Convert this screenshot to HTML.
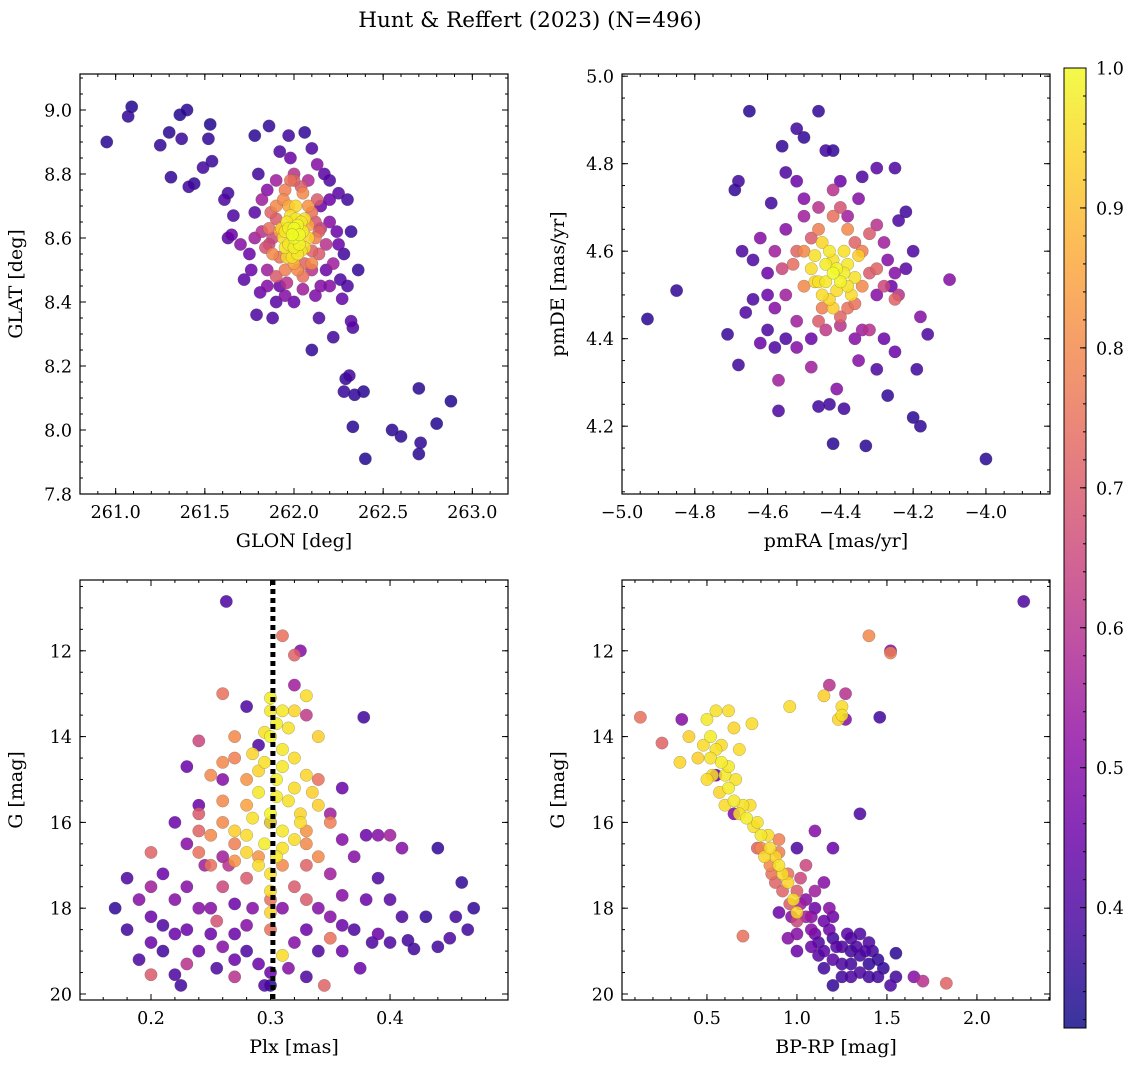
<!DOCTYPE html>
<html><head><meta charset="utf-8">
<style>
html,body{margin:0;padding:0;background:#fff;}
svg{display:block;font-family:"DejaVu Serif","Liberation Serif",serif;}
</style></head>
<body>
<svg id="chart" width="1136" height="1068" viewBox="0 0 1136 1068">
<text x="530" y="27" text-anchor="middle" font-size="21.5">Hunt &amp; Reffert (2023) (N=496)</text>
</svg>
<script>
// ---- data: [x, y, membership probability] ----
const glonGlat = [
[260.95,8.90,.35],[261.07,8.98,.36],[261.09,9.01,.34],[261.25,8.89,.36],[261.3,8.93,.35],[261.36,8.985,.34],[261.4,9.0,.35],[261.37,8.91,.37],[261.31,8.79,.36],[261.41,8.76,.38],[261.44,8.77,.36],[261.53,8.955,.34],[261.52,8.91,.36],[261.49,8.82,.38],[261.54,8.84,.37],[261.61,8.72,.4],[261.63,8.74,.38],[261.63,8.6,.42],[261.65,8.61,.45],[261.66,8.67,.4],[261.78,8.92,.35],[261.86,8.95,.36],[261.92,8.87,.4],[261.97,8.92,.38],[262.06,8.93,.36],[262.1,8.88,.4],[262.13,8.83,.5],[262.2,8.78,.4],[262.25,8.74,.42],[262.3,8.72,.38],[262.32,8.62,.37],[262.36,8.5,.36],[262.3,8.45,.4],[262.27,8.41,.44],[262.32,8.34,.42],[262.33,8.32,.4],[262.22,8.29,.38],[262.1,8.25,.36],[262.14,8.35,.4],[262.29,8.16,.36],[262.28,8.12,.37],[262.31,8.17,.38],[262.34,8.11,.36],[262.39,8.12,.35],[262.33,8.01,.35],[262.4,7.91,.34],[262.55,8.0,.35],[262.6,7.98,.35],[262.7,8.13,.35],[262.71,7.96,.36],[262.7,7.925,.35],[262.8,8.02,.34],[262.88,8.09,.34],[261.79,8.36,.4],[261.81,8.43,.45],[261.88,8.35,.4],[262.2,8.45,.5],[261.75,8.55,.45],[261.72,8.47,.42],[261.7,8.58,.5],[261.78,8.68,.42],[261.8,8.8,.38],[261.85,8.75,.5],[262.15,8.7,.45],[262.2,8.65,.5],[262.25,8.58,.45],[262.22,8.52,.55],[261.95,8.42,.5],[262.05,8.44,.55],[262.1,8.5,.6],[261.85,8.5,.55],[261.82,8.62,.6],[262.18,8.58,.6],[262.15,8.63,.62],[261.9,8.78,.55],[262.0,8.8,.6],[262.08,8.78,.58],[261.92,8.45,.45],[262.15,8.45,.5],
[261.9,8.7,.8],[261.95,8.75,.78],[262.05,8.74,.8],[262.1,8.68,.75],[262.12,8.6,.78],[262.1,8.52,.8],[262.05,8.48,.75],[261.95,8.5,.78],[261.88,8.55,.8],[261.86,8.63,.75],[261.92,8.62,.85],[262.08,8.64,.85],[262.0,8.52,.85],[261.97,8.7,.86],[261.87,8.68,.72],[262.14,8.55,.7],[261.9,8.48,.7],[262.0,8.78,.72],[262.13,8.72,.7],[261.84,8.57,.68],
[261.88,8.6,.65],[261.9,8.66,.7],[262.12,8.65,.68],[262.1,8.56,.72],[261.92,8.54,.75],[262.06,8.52,.72],[261.96,8.46,.6],[262.04,8.76,.7],[261.94,8.72,.8],[262.08,8.7,.82],[262.14,8.62,.72],[261.86,8.58,.65],[261.98,8.78,.75],[262.02,8.5,.8],[261.85,8.45,.5],[262.18,8.5,.45],[262.2,8.72,.45],[261.78,8.6,.55],[261.76,8.5,.45],[262.24,8.62,.45],[262.0,8.4,.45],[261.9,8.4,.42],[262.12,8.42,.48],[261.98,8.85,.45],[262.17,8.8,.42],[261.82,8.72,.55],[262.26,8.47,.4],[262.28,8.55,.38],
[262.0,8.6,1],[261.97,8.63,.98],[262.03,8.58,.99],[262.01,8.66,.97],[261.95,8.57,.96],[262.05,8.62,.98],[262.02,8.55,.97],[261.98,8.67,.95],[262.06,8.57,.96],[261.94,8.6,.95],[262.0,8.63,1],[262.04,8.65,.97],[261.99,8.54,.96],[262.08,8.6,.94],[261.96,8.65,.97],[262.01,8.7,.94],[261.93,8.63,.93],[262.03,8.61,1],
[261.97,8.58,.97],[262.04,8.56,.96],[261.99,8.61,1],[262.02,8.64,.99],[262.06,8.66,.95],[261.95,8.62,.97],[262.0,8.57,.98],[261.96,8.54,.94]];
const pmraPmde = [
[-4.93,4.445,.35],[-4.85,4.51,.36],[-4.71,4.41,.37],[-4.69,4.74,.36],[-4.68,4.76,.38],[-4.67,4.6,.4],[-4.68,4.34,.38],[-4.65,4.92,.35],[-4.64,4.49,.4],[-4.62,4.39,.45],[-4.6,4.42,.4],[-4.59,4.71,.38],[-4.55,4.78,.4],[-4.56,4.84,.36],[-4.52,4.88,.38],[-4.5,4.86,.36],[-4.46,4.92,.36],[-4.44,4.83,.38],[-4.42,4.83,.36],[-4.34,4.77,.4],[-4.3,4.79,.42],[-4.25,4.79,.4],[-4.22,4.69,.38],[-4.2,4.6,.4],[-4.24,4.67,.4],[-4.1,4.535,.5],[-4.18,4.45,.5],[-4.16,4.41,.4],[-4.19,4.33,.38],[-4.25,4.37,.45],[-4.27,4.27,.36],[-4.2,4.22,.35],[-4.18,4.2,.36],[-4.0,4.125,.35],[-4.33,4.155,.35],[-4.42,4.16,.35],[-4.41,4.285,.5],[-4.46,4.245,.38],[-4.43,4.25,.38],[-4.39,4.24,.38],[-4.57,4.235,.4],[-4.57,4.305,.55],[-4.58,4.38,.4],[-4.55,4.4,.4],[-4.52,4.38,.5],[-4.48,4.335,.55],[-4.35,4.35,.5],[-4.3,4.33,.4],[-4.28,4.4,.45],[-4.32,4.42,.6],[-4.6,4.55,.45],[-4.62,4.63,.5],[-4.58,4.6,.55],[-4.55,4.65,.5],[-4.5,4.72,.5],[-4.35,4.72,.5],[-4.28,4.62,.55],[-4.26,4.52,.45],[-4.3,4.5,.5],[-4.55,4.5,.55],[-4.52,4.44,.55],[-4.4,4.43,.6],[-4.46,4.7,.6],[-4.38,4.68,.55],[-4.27,4.58,.5],[-4.24,4.5,.6],
[-4.5,4.6,.8],[-4.46,4.65,.78],[-4.38,4.65,.8],[-4.34,4.6,.78],[-4.34,4.52,.8],[-4.38,4.47,.75],[-4.45,4.47,.78],[-4.5,4.52,.8],[-4.42,4.68,.75],[-4.3,4.56,.72],[-4.53,4.57,.74],[-4.4,4.45,.72],[-4.32,4.64,.7],[-4.25,4.49,.72],
[-4.48,4.63,.7],[-4.36,4.62,.72],[-4.32,4.55,.7],[-4.36,4.48,.75],[-4.46,4.44,.7],[-4.52,4.6,.72],[-4.4,4.7,.68],[-4.28,4.52,.65],[-4.56,4.56,.65],[-4.44,4.42,.62],[-4.42,4.74,.6],[-4.3,4.66,.6],[-4.5,4.68,.55],[-4.58,4.47,.5],[-4.34,4.42,.55],[-4.25,4.55,.5],[-4.6,4.5,.45],[-4.48,4.4,.45],[-4.36,4.4,.5],[-4.4,4.76,.45],[-4.52,4.76,.45],[-4.64,4.58,.4],[-4.66,4.46,.4],[-4.22,4.56,.42],
[-4.42,4.55,1],[-4.44,4.57,.98],[-4.4,4.53,.99],[-4.46,4.53,.96],[-4.38,4.57,.97],[-4.43,4.6,.97],[-4.41,4.51,.95],[-4.48,4.56,.95],[-4.36,4.54,.96],[-4.45,4.62,.94],[-4.39,4.6,.96],[-4.43,4.49,.94],[-4.37,4.5,.95],[-4.47,4.59,.96],[-4.35,4.59,.93],
[-4.41,4.56,.99],[-4.44,4.53,.97],[-4.39,4.55,.98],[-4.42,4.58,.96],[-4.45,4.5,.95],[-4.38,4.52,.96],[-4.47,4.53,.94],[-4.42,4.47,.93]];
const plxG = [
[0.3,13.1,.98],[0.31,13.4,.97],[0.305,13.7,.98],[0.3,14.0,.99],[0.31,14.3,.97],[0.295,14.6,.96],[0.32,14.5,.95],[0.305,15.0,.98],[0.29,15.3,.97],[0.315,15.5,.96],[0.3,15.8,.99],[0.32,15.2,.95],[0.33,14.9,.94],[0.285,15.9,.96],[0.31,16.2,.97],[0.295,16.5,.98],[0.305,16.8,.97],[0.28,16.7,.94],[0.325,16.0,.95],[0.3,17.2,.96],[0.33,13.05,.95],[0.32,13.4,.94],[0.29,14.8,.94],[0.34,15.6,.93],[0.27,16.2,.93],[0.3,18.1,.94],[0.31,19.1,.95],[0.34,14.0,.93],
[0.3,13.4,.97],[0.295,13.9,.96],[0.31,14.7,.97],[0.305,15.4,.98],[0.3,16.0,.97],[0.31,16.6,.96],[0.29,17.0,.95],[0.3,17.6,.95],[0.32,16.4,.95],[0.315,13.8,.96],[0.285,14.4,.94],[0.325,15.8,.94],[0.335,15.3,.93],[0.28,16.3,.95],
[0.31,11.65,.75],[0.32,12.1,.72],[0.26,13.0,.75],[0.27,14.0,.8],[0.27,14.5,.78],[0.26,15.5,.8],[0.25,16.3,.8],[0.27,16.5,.78],[0.24,16.7,.75],[0.28,15.0,.82],[0.33,16.5,.8],[0.34,15.0,.75],[0.35,16.0,.78],[0.33,17.0,.72],[0.25,14.9,.8],[0.24,15.8,.7],[0.32,17.5,.7],[0.35,18.7,.75],[0.345,19.8,.72],[0.28,17.3,.7],[0.26,17.5,.65],[0.255,18.3,.68],[0.2,16.7,.72],[0.2,19.55,.7],[0.3,18.5,.75],[0.27,19.6,.6],[0.23,19.3,.6],[0.24,14.1,.65],[0.33,13.5,.62],[0.32,12.8,.55],[0.325,12.0,.5],
[0.26,16.0,.8],[0.27,16.9,.82],[0.28,15.6,.85],[0.26,14.6,.8],[0.33,16.2,.82],[0.34,16.8,.8],[0.31,17.0,.8],[0.29,16.8,.82],[0.25,17.0,.75],[0.3,17.8,.75],[0.33,17.8,.7],[0.24,16.2,.72],
[0.263,10.85,.4],[0.378,13.55,.38],[0.17,18.0,.36],[0.18,18.5,.38],[0.18,17.3,.4],[0.19,17.8,.5],[0.2,18.8,.45],[0.2,17.5,.55],[0.21,18.4,.4],[0.21,19.0,.38],[0.22,17.8,.5],[0.22,19.55,.4],[0.225,19.8,.38],[0.23,18.5,.45],[0.24,19.0,.45],[0.245,17.0,.55],[0.25,18.0,.5],[0.255,19.4,.4],[0.26,18.9,.5],[0.265,17.0,.6],[0.27,18.6,.45],[0.28,19.0,.4],[0.285,18.0,.5],[0.29,19.3,.45],[0.295,19.8,.4],[0.3,19.5,.45],[0.31,18.0,.5],[0.315,19.4,.5],[0.33,18.5,.45],[0.34,19.0,.4],[0.35,18.2,.5],[0.36,19.0,.45],[0.36,17.7,.5],[0.37,18.5,.4],[0.375,19.4,.45],[0.38,16.3,.45],[0.385,18.8,.4],[0.39,18.6,.45],[0.39,17.3,.4],[0.4,17.8,.42],[0.41,18.2,.4],[0.41,16.6,.5],[0.42,18.95,.38],[0.43,18.2,.36],[0.44,16.6,.36],[0.45,18.7,.4],[0.455,18.2,.38],[0.46,17.4,.36],[0.465,18.5,.38],[0.47,18.0,.36],[0.415,18.75,.38],[0.36,15.2,.45],[0.35,15.8,.55],[0.37,16.8,.5],[0.23,16.5,.5],[0.22,16.0,.45],[0.24,15.6,.45],[0.26,15.0,.5],[0.23,14.7,.45],[0.28,13.3,.4],[0.29,14.2,.4],[0.3,19.8,.35],[0.33,19.6,.4],[0.39,16.3,.5],[0.4,16.3,.55],[0.35,17.2,.55],[0.21,17.2,.45],[0.3,16.0,.45],[0.27,17.9,.45],
[0.22,18.6,.45],[0.25,18.6,.45],[0.28,18.4,.5],[0.32,18.8,.5],[0.34,18.0,.5],[0.36,18.4,.45],[0.27,19.2,.45],[0.24,18.0,.5],[0.19,19.2,.4],[0.38,17.8,.45],[0.4,18.8,.4],[0.44,18.9,.38],[0.2,18.2,.45],[0.23,17.5,.5],[0.26,16.8,.55],[0.36,16.4,.5]];
const colorG = [
[0.5,13.6,.97],[0.52,14.0,.98],[0.55,14.3,.96],[0.48,14.2,.95],[0.58,14.6,.98],[0.6,14.9,.97],[0.53,14.9,.95],[0.62,15.2,.98],[0.65,15.5,.97],[0.7,15.6,.96],[0.72,15.9,.98],[0.76,16.1,.96],[0.8,16.3,.97],[0.85,16.6,.95],[0.9,17.0,.96],[0.95,17.4,.94],[0.98,17.8,.95],[1.0,18.1,.94],[0.55,13.4,.96],[0.62,13.4,.95],[0.65,13.8,.94],[0.75,13.7,.95],[0.45,14.5,.93],[0.35,14.6,.94],[0.96,13.3,.95],[1.25,13.3,.95],[1.25,13.5,.96],[1.23,13.6,.94],[1.15,13.05,.93],[0.68,14.3,.95],[0.57,15.3,.94],[0.4,14.0,.93],
[0.52,14.5,.96],[0.58,14.2,.95],[0.62,14.7,.97],[0.66,15.0,.96],[0.6,15.6,.95],[0.68,15.8,.96],[0.74,15.6,.95],[0.78,16.0,.96],[0.84,16.3,.95],[0.88,16.8,.94],[0.92,17.2,.95],[0.82,16.8,.94],[0.5,15.0,.95],
[0.13,13.55,.75],[0.25,14.15,.72],[1.4,11.65,.8],[1.52,12.05,.78],[0.7,18.65,.75],[0.85,17.0,.8],[0.9,16.7,.78],[0.95,17.2,.75],[0.88,17.4,.72],[1.0,17.6,.7],[1.05,17.0,.65],[1.83,19.75,.72],[1.18,12.8,.6],[1.27,13.0,.6],
[0.8,16.6,.8],[0.86,17.2,.75],[0.92,17.6,.72],[0.96,17.9,.7],[1.0,18.3,.65],[0.9,16.4,.78],[0.78,16.6,.72],[1.02,17.3,.65],
[2.26,10.85,.4],[1.46,13.55,.38],[1.52,12.0,.5],[1.35,15.8,.4],[1.1,16.2,.5],[1.05,17.8,.5],[1.1,18.0,.45],[1.08,18.5,.5],[1.15,18.3,.45],[1.12,18.8,.4],[1.2,18.7,.38],[1.25,18.9,.4],[1.3,19.0,.38],[1.25,19.3,.4],[1.35,19.1,.38],[1.4,19.3,.36],[1.45,19.2,.36],[1.3,18.7,.4],[1.2,19.2,.42],[1.15,19.4,.38],[1.2,19.8,.36],[1.55,19.05,.35],[1.55,19.6,.38],[1.65,19.6,.5],[1.52,19.8,.4],[1.0,19.0,.45],[0.95,18.7,.5],[0.97,18.2,.5],[1.1,17.6,.55],[1.15,17.4,.5],[1.0,16.6,.4],[1.2,16.6,.45],[1.3,19.6,.4],[1.4,18.8,.4],[1.18,18.0,.5],[0.9,18.1,.45],[0.55,14.9,.45],[1.7,19.7,.6],[0.36,13.6,.5],[1.27,13.6,.5],[0.65,15.8,.5],[1.35,19.5,.4],[1.45,19.6,.38],
[1.05,18.2,.55],[1.0,18.6,.5],[1.08,18.9,.45],[1.12,19.1,.42],[1.18,18.5,.45],[1.22,18.9,.42],[1.28,18.6,.42],[1.33,18.9,.4],[1.38,19.0,.4],[1.3,19.3,.38],[1.25,19.6,.38],[1.4,19.6,.38],[1.48,19.4,.36],[1.15,19.0,.42],[1.08,18.2,.5],[1.02,17.9,.55],[1.1,18.6,.45],[1.2,18.2,.45],[1.35,18.6,.4],[1.42,19.0,.38]];
const parallaxLine = [0.302];
const xTicks1=[261.0,261.5,262.0,262.5,263.0], yTicks1=[7.8,8.0,8.2,8.4,8.6,8.8,9.0];
const xTicks2=[-5.0,-4.8,-4.6,-4.4,-4.2,-4.0], yTicks2=[4.2,4.4,4.6,4.8,5.0];
const xTicks3=[0.2,0.3,0.4], yTicks3=[12,14,16,18,20];
const xTicks4=[0.5,1.0,1.5,2.0], yTicks4=[12,14,16,18,20];
const cbarTicks=[0.4,0.5,0.6,0.7,0.8,0.9,1.0];

const NS="http://www.w3.org/2000/svg";
const svg=document.getElementById('chart');
const TFS=17.5, LFS=19;
function mk(tag,attrs,parent){const e=document.createElementNS(NS,tag);for(const k in attrs)e.setAttribute(k,attrs[k]);(parent||svg).appendChild(e);return e;}
const plasma=[[13,8,135],[65,4,157],[106,0,168],[143,13,164],[177,42,144],[204,71,120],[225,100,98],[242,132,75],[252,166,54],[252,206,37],[240,249,33]];
const VMIN=0.314,VMAX=1.0;
function cmap(v){let t=(v-VMIN)/(VMAX-VMIN);t=Math.max(0,Math.min(1,t))*10;const i=Math.min(9,Math.floor(t)),f=t-i;const a=plasma[i],b=plasma[i+1];return `rgb(${Math.round(a[0]+(b[0]-a[0])*f)},${Math.round(a[1]+(b[1]-a[1])*f)},${Math.round(a[2]+(b[2]-a[2])*f)})`;}
function fmt(v,d){return (v<0?'\u2212':'')+Math.abs(v).toFixed(d);}

function panel(o){
  const g=mk('g',{});
  
  
  const sx=v=>o.x0+(v-o.xmin)/(o.xmax-o.xmin)*(o.x1-o.x0);
  const sy=o.inv?(v=>o.y0+(v-o.ymin)/(o.ymax-o.ymin)*(o.y1-o.y0)):(v=>o.y1-(v-o.ymin)/(o.ymax-o.ymin)*(o.y1-o.y0));
  const pts=o.data.slice().sort((a,b)=>a[2]-b[2]);
  pts.forEach(d=>{
    const c=mk('circle',{cx:sx(d[0]),cy:sy(d[1]),r:6.2,fill:cmap(d[2]),'fill-opacity':0.85,stroke:'#555','stroke-width':0.4,'stroke-opacity':0.6},g);
    
    
  });
  if(o.vline){o.vline.forEach(v=>{const l=mk('line',{x1:sx(v),x2:sx(v),y1:o.y0,y2:o.y1,stroke:'#000','stroke-width':5,'stroke-dasharray':'5,4'},g);
    
    });}
  const fr=mk('rect',{x:o.x0,y:o.y0,width:o.x1-o.x0,height:o.y1-o.y0,fill:'none',stroke:'#000','stroke-width':1.2},g);
  
  
  for(let v=Math.ceil(o.xmin/o.xm-1e-9)*o.xm;v<=o.xmax;v+=o.xm){const x=sx(v);mk('line',{x1:x,x2:x,y1:o.y1,y2:o.y1-3,stroke:'#000'},g);mk('line',{x1:x,x2:x,y1:o.y0,y2:o.y0+3,stroke:'#000'},g);}
  for(let v=Math.ceil(o.ymin/o.ym-1e-9)*o.ym;v<=o.ymax;v+=o.ym){const y=sy(v);mk('line',{x1:o.x0,x2:o.x0+3,y1:y,y2:y,stroke:'#000'},g);mk('line',{x1:o.x1,x2:o.x1-3,y1:y,y2:y,stroke:'#000'},g);}
  o.xt.forEach(v=>{const x=sx(v);mk('line',{x1:x,x2:x,y1:o.y1,y2:o.y1-6,stroke:'#000'},g);mk('line',{x1:x,x2:x,y1:o.y0,y2:o.y0+6,stroke:'#000'},g);
    const t=mk('text',{x:x,y:o.y1+24,'text-anchor':'middle','font-size':TFS},g);t.textContent=fmt(v,o.xd);
    
    });
  o.yt.forEach(v=>{const y=sy(v);mk('line',{x1:o.x0,x2:o.x0+6,y1:y,y2:y,stroke:'#000'},g);mk('line',{x1:o.x1,x2:o.x1-6,y1:y,y2:y,stroke:'#000'},g);
    const t=mk('text',{x:o.x0-8,y:y+6.5,'text-anchor':'end','font-size':TFS},g);t.textContent=fmt(v,o.yd);
    
    });
  const xl=mk('text',{x:(o.x0+o.x1)/2,y:o.y1+53,'text-anchor':'middle','font-size':LFS},g);xl.textContent=o.xlabel;
  
  
  const yx=o.x0-58,yc=(o.y0+o.y1)/2;
  const yl=mk('text',{x:yx,y:yc,'text-anchor':'middle','font-size':LFS,transform:`rotate(-90 ${yx} ${yc})`},g);yl.textContent=o.ylabel;
  
  
}
panel({name:'glon-glat-panel',data:glonGlat,x0:80,x1:508,y0:74,y1:494,xmin:260.8,xmax:263.2,ymin:7.8,ymax:9.1125,xm:0.1,ym:0.05,xt:xTicks1,yt:yTicks1,xd:1,yd:1,xlabel:'GLON [deg]',ylabel:'GLAT [deg]'});
panel({name:'proper-motion-panel',data:pmraPmde,x0:622,x1:1050,y0:74,y1:494,xmin:-5.0,xmax:-3.824,ymin:4.045,ymax:5.005,xm:0.05,ym:0.05,xt:xTicks2,yt:yTicks2,xd:1,yd:1,xlabel:'pmRA [mas/yr]',ylabel:'pmDE [mas/yr]'});
panel({name:'parallax-magnitude-panel',data:plxG,vline:parallaxLine,inv:true,x0:80,x1:508,y0:580,y1:1000,xmin:0.1406,xmax:0.4987,ymin:10.35,ymax:20.14,xm:0.02,ym:0.5,xt:xTicks3,yt:yTicks3,xd:1,yd:0,xlabel:'Plx [mas]',ylabel:'G [mag]'});
panel({name:'cmd-panel',data:colorG,inv:true,x0:622,x1:1050,y0:580,y1:1000,xmin:0.028,xmax:2.406,ymin:10.35,ymax:20.14,xm:0.1,ym:0.5,xt:xTicks4,yt:yTicks4,xd:1,yd:0,xlabel:'BP-RP [mag]',ylabel:'G [mag]'});

const cb=mk('g',{});


const CX=1064,CW=22,CY0=68,CY1=1028;
const cy=v=>CY1-(v-VMIN)/(VMAX-VMIN)*(CY1-CY0);
const defs=mk('defs',{},cb);const gr=mk('linearGradient',{id:'pl',x1:0,y1:1,x2:0,y2:0},defs);
for(let i=0;i<=10;i++)mk('stop',{offset:i/10,'stop-color':`rgb(${plasma[i].join(',')})`,'stop-opacity':0.82},gr);
mk('rect',{x:CX,y:CY0,width:CW,height:CY1-CY0,fill:'url(#pl)',stroke:'#000','stroke-width':1},cb);
for(let v=0.32;v<=1.0001;v+=0.02){mk('line',{x1:CX+CW,x2:CX+CW-3,y1:cy(v),y2:cy(v),stroke:'#000'},cb);}
cbarTicks.forEach(v=>{const y=cy(v);mk('line',{x1:CX+CW,x2:CX+CW-6,y1:y,y2:y,stroke:'#000'},cb);
  const t=mk('text',{x:CX+CW+10,y:y+6.5,'font-size':TFS},cb);t.textContent=v.toFixed(1);
  
  });
</script>
</body></html>
